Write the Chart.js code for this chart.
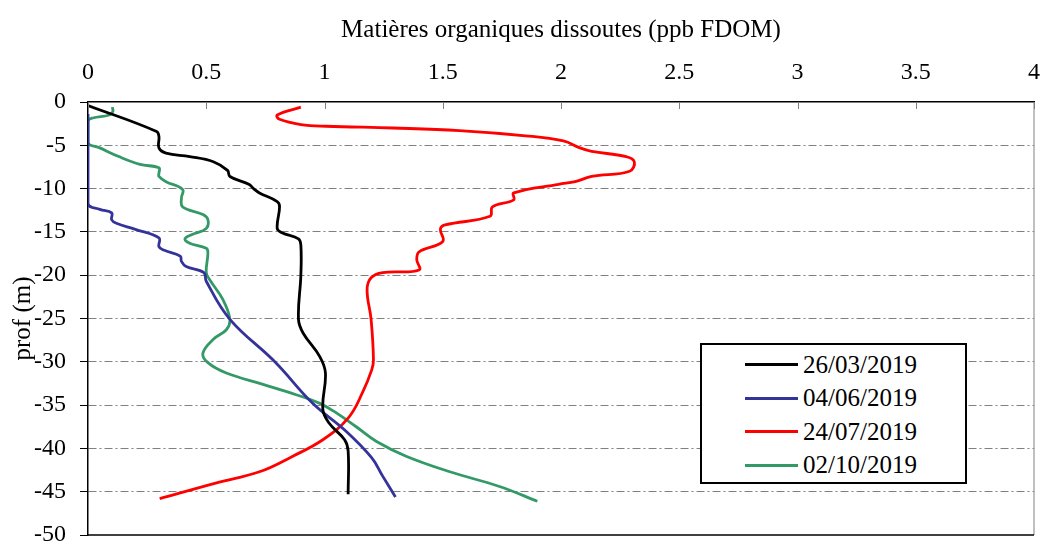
<!DOCTYPE html>
<html>
<head>
<meta charset="utf-8">
<script src="https://cdn.jsdelivr.net/npm/chart.js@4.4.1/dist/chart.umd.min.js"></script>
<style>
  body { margin: 0; background: #fff; }
  #wrap { position: relative; width: 1041px; height: 543px; }
  #legend {
    position: absolute; left: 700px; top: 343px; width: 263px; height: 134px;
    border: 2px solid #000; background: #fff; box-sizing: content-box;
    font-family: "Liberation Serif", "Times New Roman", serif; font-size: 25px; color: #000;
    padding-top: 3px;
  }
  #legend .row { display: flex; align-items: center; height: 33.5px; }
  #legend .swatch { width: 53px; height: 3px; margin-left: 43px; margin-right: 5px; }
</style>
</head>
<body>
<div id="wrap">
  <canvas id="chart" width="1041" height="543"></canvas>
  <div id="legend"></div>
</div>
<script>
// axis setup
const xTitle = 'Matières organiques dissoutes (ppb FDOM)';
const yTitle = 'prof (m)';
const xTicks = [0, 0.5, 1, 1.5, 2, 2.5, 3, 3.5, 4];
const yTicks = [0, -5, -10, -15, -20, -25, -30, -35, -40, -45, -50];

const seriesLabels = ['26/03/2019', '04/06/2019', '24/07/2019', '02/10/2019'];
const seriesColors = ['#000000', '#333399', '#ff0000', '#339966'];

// 26/03/2019
const depthMar = [-0.4, -3.4, -4.0, -5.3, -5.9, -6.3, -6.9, -7.9, -8.6, -9.5, -10.0, -10.5, -11.5, -12.1, -14.6,
  -15.1, -15.8, -16.5, -20, -25.1, -26.7, -29.4, -31.3, -35.5, -37.1, -39.0, -40.3, -45.3];
const fdomMar = [0.0, 0.29, 0.30, 0.30, 0.33, 0.43, 0.53, 0.59, 0.60, 0.68, 0.70, 0.725, 0.80, 0.81, 0.80,
  0.82, 0.89, 0.90, 0.90, 0.89, 0.91, 0.98, 1.004, 0.993, 1.02, 1.085, 1.10, 1.10];

// 04/06/2019
const depthJun = [-1.4, -11.7, -12.4, -12.8, -13.6, -14.0, -14.7, -15.7, -16.7, -17.1, -17.8, -18.4, -19.0,
  -19.7, -20.7, -25.1, -30, -34.8, -38, -41.1, -43.2, -45.6];
const fdomJun = [0, 0, 0.05, 0.10, 0.10, 0.12, 0.20, 0.30, 0.30, 0.32, 0.39, 0.395, 0.415,
  0.49, 0.50, 0.60, 0.79, 0.95, 1.09, 1.20, 1.246, 1.30];

// 24/07/2019
const depthJul = [-0.6, -1.5, -2.0, -2.6, -2.8, -3.0, -3.3, -3.9, -4.5, -5.3, -5.7, -6.3, -6.9, -8.0, -8.6,
  -9.2, -9.5, -10.5, -11.3, -12.1, -13.2, -14.2, -14.7, -16.1, -17.3, -18.2, -19.4, -19.7, -20.3, -21.7,
  -25.1, -29.8, -30.9, -33.6, -36.5, -39.0, -40.9, -42.7, -44.0, -45.8];
const fdomJul = [0.90, 0.80, 0.81, 0.90, 1.007, 1.29, 1.57, 1.85, 2.01, 2.08, 2.13, 2.275, 2.31, 2.29, 2.13,
  2.06, 1.99, 1.80, 1.80, 1.71, 1.70, 1.51, 1.49, 1.50, 1.40, 1.39, 1.40, 1.246, 1.197, 1.18,
  1.197, 1.207, 1.20, 1.16, 1.10, 0.993, 0.866, 0.725, 0.54, 0.303];

// 02/10/2019
const depthOct = [-0.6, -1.1, -1.5, -1.85, -2.2, -4.7, -5.3, -6.3, -7.2, -7.6, -8.2, -8.6, -9.2, -10.1, -11.1,
  -12.1, -13.0, -13.6, -14.6, -15.3, -15.8, -16.3, -16.9, -17.4, -19.7, -20.5, -22.8, -25.1, -26.3, -27.4,
  -29.0, -30.1, -31.3, -32.6, -33.8, -34.8, -35.9, -37.5, -39.2, -40.9, -42.7, -44.4, -46.1];
const fdomOct = [0.103, 0.105, 0.09, 0.02, 0, 0, 0.05, 0.13, 0.22, 0.30, 0.30, 0.30, 0.33, 0.40, 0.395,
  0.40, 0.486, 0.507, 0.50, 0.44, 0.41, 0.43, 0.50, 0.507, 0.50, 0.514, 0.57, 0.60, 0.585, 0.53,
  0.486, 0.507, 0.585, 0.74, 0.88, 0.98, 1.05, 1.134, 1.22, 1.345, 1.53, 1.74, 1.90];

const depths = [depthMar, depthJun, depthJul, depthOct];
const fdoms = [fdomMar, fdomJun, fdomJul, fdomOct];

const serif = '"Liberation Serif", "Times New Roman", serif';

const datasets = seriesLabels.map((label, i) => ({
    label: label,
    data: fdoms[i].map((v, k) => ({ x: v, y: depths[i][k] })),
    borderColor: seriesColors[i],
    backgroundColor: seriesColors[i],
    borderWidth: 2.8,
    pointRadius: 0,
    showLine: true,
    tension: 0.4,
    fill: false,
}));

// extra frame bits: inward ticks on the top axis, bottom and right border
const framePlugin = {
    id: 'frame',
    afterDraw(chart) {
        const { ctx, chartArea, scales } = chart;
        ctx.save();
        ctx.strokeStyle = '#808080';
        ctx.lineWidth = 1;
        scales.x.ticks.forEach((t) => {
            const px = Math.round(scales.x.getPixelForValue(t.value)) + 0.5;
            ctx.beginPath();
            ctx.moveTo(px, chartArea.top);
            ctx.lineTo(px, chartArea.top + 7);
            ctx.stroke();
        });
        ctx.beginPath();
        ctx.moveTo(chartArea.right, chartArea.top);
        ctx.lineTo(chartArea.right, chartArea.bottom);
        ctx.stroke();
        ctx.strokeStyle = '#000';
        ctx.lineWidth = 1.5;
        ctx.beginPath();
        ctx.moveTo(chartArea.left, chartArea.bottom);
        ctx.lineTo(chartArea.right, chartArea.bottom);
        ctx.stroke();
        ctx.restore();
    },
};

const chart = new Chart(document.getElementById('chart'), {
    type: 'scatter',
    data: { datasets: datasets },
    plugins: [framePlugin],
    options: {
        responsive: false,
        animation: false,
        layout: { padding: 0 },
        plugins: {
            legend: { display: false },
            tooltip: { enabled: false },
        },
        scales: {
            x: {
                type: 'linear',
                position: 'top',
                min: 0,
                max: 4,
                afterBuildTicks: (s) => { s.ticks = xTicks.map((v) => ({ value: v })); },
                afterFit: (s) => { s.height = 102; s.paddingLeft = 0; s.paddingRight = 7; },
                grid: { drawOnChartArea: false, drawTicks: false },
                border: { color: '#000', width: 1.5 },
                ticks: {
                    font: { family: serif, size: 24 }, color: '#000', padding: 15, maxRotation: 0, autoSkip: false,
                    callback: (v) => String(v),
                },
                title: { display: true, text: xTitle, color: '#000', font: { family: serif, size: 25 }, padding: { top: 15, bottom: 10 } },
            },
            y: {
                type: 'linear',
                min: -50,
                max: 0,
                afterBuildTicks: (s) => { s.ticks = yTicks.map((v) => ({ value: v })); },
                afterFit: (s) => { s.width = 88; s.paddingTop = 8; s.paddingBottom = 8; },
                grid: {
                    color: (c) => (c.tick && (c.tick.value === 0 || c.tick.value === -50) ? 'rgba(0,0,0,0)' : '#808080'),
                    tickColor: '#000',
                    tickLength: 8,
                    lineWidth: 1,
                },
                border: { color: '#000', width: 1.5, dash: [8, 3, 2, 3] },
                ticks: { font: { family: serif, size: 24 }, color: '#000', padding: 14, autoSkip: false, callback: (v) => String(v) },
                title: { display: true, text: yTitle, color: '#000', font: { family: serif, size: 25 }, padding: { top: 8, bottom: 0 } },
            },
        },
    },
});

// legend as html text
const legendBox = document.getElementById('legend');
chart.data.datasets.forEach((ds) => {
    const row = document.createElement('div');
    row.className = 'row';
    const sw = document.createElement('span');
    sw.className = 'swatch';
    sw.style.background = ds.borderColor;
    const txt = document.createElement('span');
    txt.textContent = ds.label;
    row.appendChild(sw);
    row.appendChild(txt);
    legendBox.appendChild(row);
});
</script>
</body>
</html>
